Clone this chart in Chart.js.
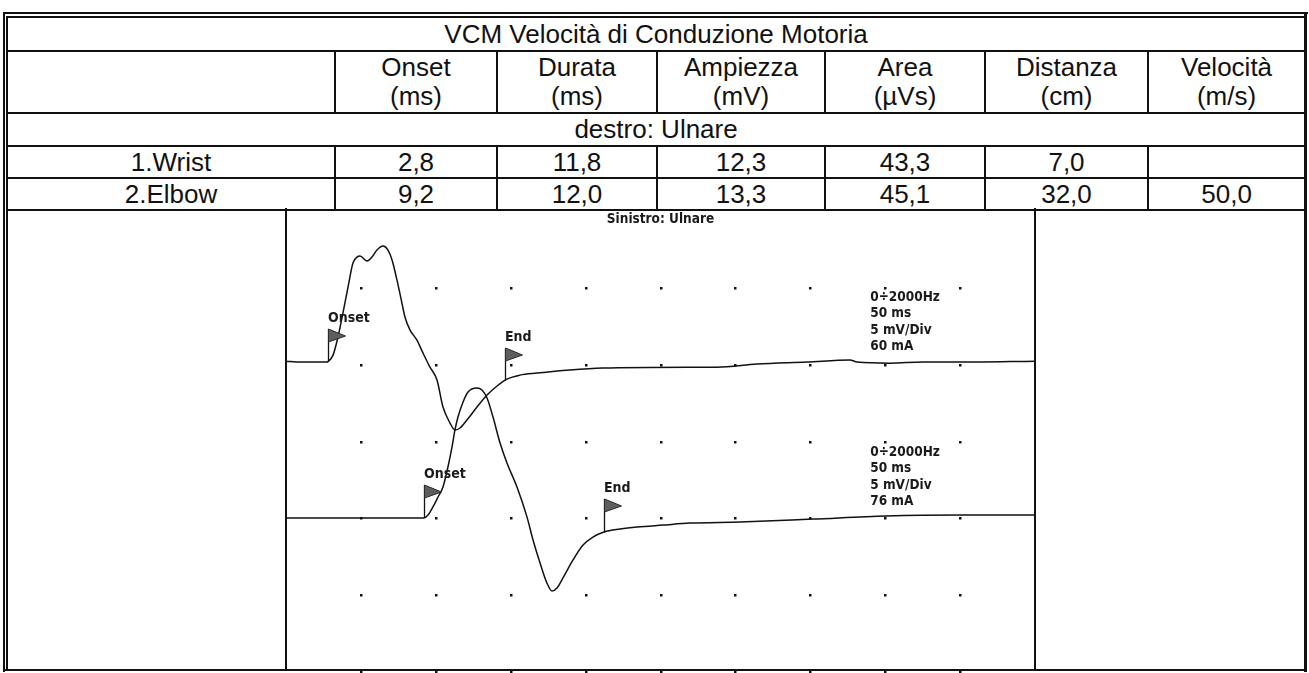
<!DOCTYPE html>
<html>
<head>
<meta charset="utf-8">
<script src="https://cdn.jsdelivr.net/npm/chart.js"></script>
<style>
  body { margin: 0; background: #fff; width: 1309px; height: 673px; overflow: hidden; position: relative;
         font-family: "Liberation Sans", Arial, sans-serif; color: #111; }
  .ln { position: absolute; background: #111; }
  table { position: absolute; left: 6px; top: 16px; width: 1300px; border-collapse: collapse; table-layout: fixed; }
  td { border: 2px solid #111; padding: 0; text-align: center; font-size: 26px; line-height: 29px; vertical-align: middle; white-space: nowrap; }
  #chartBox { position: absolute; left: 286px; top: 210px; width: 750px; height: 463px; }
</style>
</head>
<body>

<table id="tbl">
  <colgroup>
    <col style="width:328px"><col style="width:162px"><col style="width:160px"><col style="width:168px">
    <col style="width:160px"><col style="width:163px"><col style="width:157px">
  </colgroup>
</table>

<div id="chartBox"><canvas id="emg"></canvas></div>

<!-- frame lines -->
<div class="ln" style="left:3px;top:12px;width:1305px;height:2px"></div>
<div class="ln" style="left:3px;top:12px;width:2px;height:660px"></div>
<div class="ln" style="left:6px;top:208px;width:2px;height:463px"></div>
<div class="ln" style="left:285px;top:208px;width:2px;height:463px"></div>
<div class="ln" style="left:1034px;top:208px;width:2px;height:463px"></div>
<div class="ln" style="left:1304px;top:12px;width:3px;height:660px"></div>
<div class="ln" style="left:3px;top:669px;width:1304px;height:2px"></div>

<script>
// ---- table data ----
const title = 'VCM Velocità di Conduzione Motoria';
const sideLabel = 'destro: Ulnare';
const headers = [['Onset', '(ms)'], ['Durata', '(ms)'], ['Ampiezza', '(mV)'], ['Area', '(µVs)'], ['Distanza', '(cm)'], ['Velocità', '(m/s)']];
const sites = ['1.Wrist', '2.Elbow'];
const onsetMs = [2.8, 9.2];
const durataMs = [11.8, 12.0];
const ampiezzaMv = [12.3, 13.3];
const areaUVs = [43.3, 45.1];
const distanzaCm = [7.0, 32.0];
const velocitaMs = [null, 50.0];

// ---- waveform data (ms, mV on screen) ----
const wristMs = [0, 0.93, 2.74, 2.8, 3.14, 3.47, 3.8, 4.14, 4.47, 4.74, 4.94, 5.41, 5.74, 6.07, 6.48, 6.81, 7.08, 7.41, 7.74, 7.94,
  8.28, 8.74, 9.15, 9.61, 10.08, 10.48, 10.95, 11.28, 11.62, 12.08, 12.75, 13.42, 14.09, 14.75, 15.62, 16.76, 18.96, 21.16,
  26.77, 28.77, 31.44, 34.78, 37.65, 38.12, 40.32, 42.52, 44.99, 50];
const wristMv = [20.23, 20.17, 20.17, 20.2, 20.62, 21.8, 23.36, 25.05, 26.61, 27.0, 27.07, 26.74, 27.0, 27.46, 27.72, 27.46, 26.81, 25.5, 24.01, 23.1,
  22.25, 21.6, 20.75, 19.84, 19.0, 17.24, 16.2, 15.75, 15.88, 16.4, 17.24, 18.02, 18.61, 19.06, 19.32, 19.45, 19.65, 19.78,
  19.84, 19.84, 20.04, 20.17, 20.3, 20.17, 20.1, 20.17, 20.17, 20.23];
const elbowMs = [0, 9.21, 9.48, 9.81, 10.15, 10.48, 10.81, 11.08, 11.28, 11.48, 11.82, 12.15, 12.75, 13.08, 13.42, 13.82, 14.29, 14.75,
  15.42, 16.09, 16.49, 16.96, 17.42, 17.76, 18.09, 18.49, 19.16, 19.83, 20.49, 21.23, 22.3, 23.43, 25.17, 26.97, 30.31, 35.18, 40.05, 45.19, 50];
const elbowMv = [10.02, 10.02, 10.21, 10.74, 11.39, 12.04, 13.34, 14.64, 15.75, 16.59, 17.57, 18.22, 18.48, 18.35, 17.83, 16.59, 14.9, 13.6,
  12.04, 10.08, 8.59, 7.09, 5.79, 5.27, 5.47, 6.12, 7.29, 8.26, 8.78, 9.11, 9.3, 9.43, 9.56, 9.69, 9.76, 9.95, 10.15, 10.21, 10.21];

const gridMs = [5, 10, 15, 20, 25, 30, 35, 40, 45];
const gridMv = [0, 5, 10, 15, 20, 25];
const chartTitle = 'Sinistro: Ulnare';
const settings = [['0÷2000Hz', '50 ms', '5 mV/Div', '60 mA'], ['0÷2000Hz', '50 ms', '5 mV/Div', '76 mA']];
const settingsMs = 39;
const settingsMv = [24.4, 14.3];

// ---- build table ----
const fmt = v => v == null ? '' : v.toFixed(1).replace('.', ',');
const tbl = document.getElementById('tbl');
const rowHeights = [34, 62, 33, 32, 32];
function addRow(h, cells) {
  const tr = document.createElement('tr');
  tr.style.height = h + 'px';
  cells.forEach(c => {
    const td = document.createElement('td');
    if (c.span) td.colSpan = c.span;
    td.innerHTML = c.html;
    tr.appendChild(td);
  });
  tbl.appendChild(tr);
}
addRow(rowHeights[0], [{ span: 7, html: title }]);
addRow(rowHeights[1], [{ html: '' }].concat(headers.map(h => ({ html: h.join('<br>') }))));
addRow(rowHeights[2], [{ span: 7, html: sideLabel }]);
sites.forEach((s, i) => {
  addRow(rowHeights[3 + i], [s, fmt(onsetMs[i]), fmt(durataMs[i]), fmt(ampiezzaMv[i]), fmt(areaUVs[i]), fmt(distanzaCm[i]), fmt(velocitaMs[i])]
    .map(t => ({ html: t })));
});

// ---- chart ----
const traces = [
  { ms: wristMs, mv: wristMv },
  { ms: elbowMs, mv: elbowMv }
];
function valueAt(tr, t) {
  for (let i = 1; i < tr.ms.length; i++) {
    if (tr.ms[i] >= t) {
      const f = (t - tr.ms[i - 1]) / (tr.ms[i] - tr.ms[i - 1]);
      return tr.mv[i - 1] + f * (tr.mv[i] - tr.mv[i - 1]);
    }
  }
  return tr.mv[tr.mv.length - 1];
}
const narrow = '"Liberation Sans Narrow", "DejaVu Sans Condensed", "Arial Narrow", sans-serif';

function drawFlag(ctx, px, py, label) {
  px = Math.round(px) + 0.5;
  const top = Math.round(py - 33);
  ctx.strokeStyle = '#111';
  ctx.lineWidth = 1.3;
  ctx.beginPath(); ctx.moveTo(px, py); ctx.lineTo(px, top); ctx.stroke();
  ctx.beginPath(); ctx.moveTo(px, top); ctx.lineTo(px + 17, top + 7); ctx.lineTo(px, top + 13); ctx.closePath();
  ctx.fillStyle = '#5e5e5e'; ctx.fill();
  ctx.strokeStyle = '#2a2a2a'; ctx.lineWidth = 1; ctx.stroke();
  ctx.fillStyle = '#1a1a1a';
  ctx.font = 'bold 14px ' + narrow;
  ctx.textAlign = 'left';
  ctx.textBaseline = 'alphabetic';
  ctx.fillText(label, px - 0.5, top - 7);
}

const decor = {
  id: 'decor',
  beforeDatasetsDraw(chart) {
    const { ctx, scales: { x, y } } = chart;
    ctx.save();
    ctx.fillStyle = '#111';
    gridMs.forEach(t => gridMv.forEach(v => {
      ctx.fillRect(Math.round(x.getPixelForValue(t)) - 1, Math.round(y.getPixelForValue(v)) - 1, 2.5, 2.5);
    }));
    ctx.restore();
  },
  afterDatasetsDraw(chart) {
    const { ctx, scales: { x, y } } = chart;
    ctx.save();
    traces.forEach((tr, i) => {
      const tOn = onsetMs[i], tEnd = onsetMs[i] + durataMs[i];
      drawFlag(ctx, x.getPixelForValue(tOn), y.getPixelForValue(valueAt(tr, tOn)), 'Onset');
      drawFlag(ctx, x.getPixelForValue(tEnd), y.getPixelForValue(valueAt(tr, tEnd)), 'End');
      ctx.fillStyle = '#1a1a1a';
      ctx.font = 'bold 13.5px ' + narrow;
      ctx.textAlign = 'left';
      ctx.textBaseline = 'middle';
      const sx = x.getPixelForValue(settingsMs), sy = y.getPixelForValue(settingsMv[i]);
      settings[i].forEach((s, k) => ctx.fillText(s, sx, sy + k * 16.5));
    });
    ctx.fillStyle = '#1a1a1a';
    ctx.font = 'bold 13.5px ' + narrow;
    ctx.textAlign = 'center';
    ctx.textBaseline = 'middle';
    ctx.fillText(chartTitle, x.getPixelForValue(25), y.getPixelForValue(29.45));
    ctx.restore();
  }
};

new Chart(document.getElementById('emg'), {
  type: 'line',
  data: {
    datasets: traces.map(tr => ({
      data: tr.ms.map((t, k) => ({ x: t, y: tr.mv[k] })),
      borderColor: '#111',
      borderWidth: 1.5,
      pointRadius: 0,
      fill: false,
      cubicInterpolationMode: 'monotone'
    }))
  },
  options: {
    responsive: true,
    maintainAspectRatio: false,
    animation: false,
    layout: { padding: { top: 1, bottom: 1, left: 0, right: 1 } },
    plugins: { legend: { display: false }, tooltip: { enabled: false }, title: { display: false } },
    scales: {
      x: { type: 'linear', min: 0, max: 50, display: false },
      y: { type: 'linear', min: 0, max: 30, display: false }
    }
  },
  plugins: [decor]
});
</script>
</body>
</html>
